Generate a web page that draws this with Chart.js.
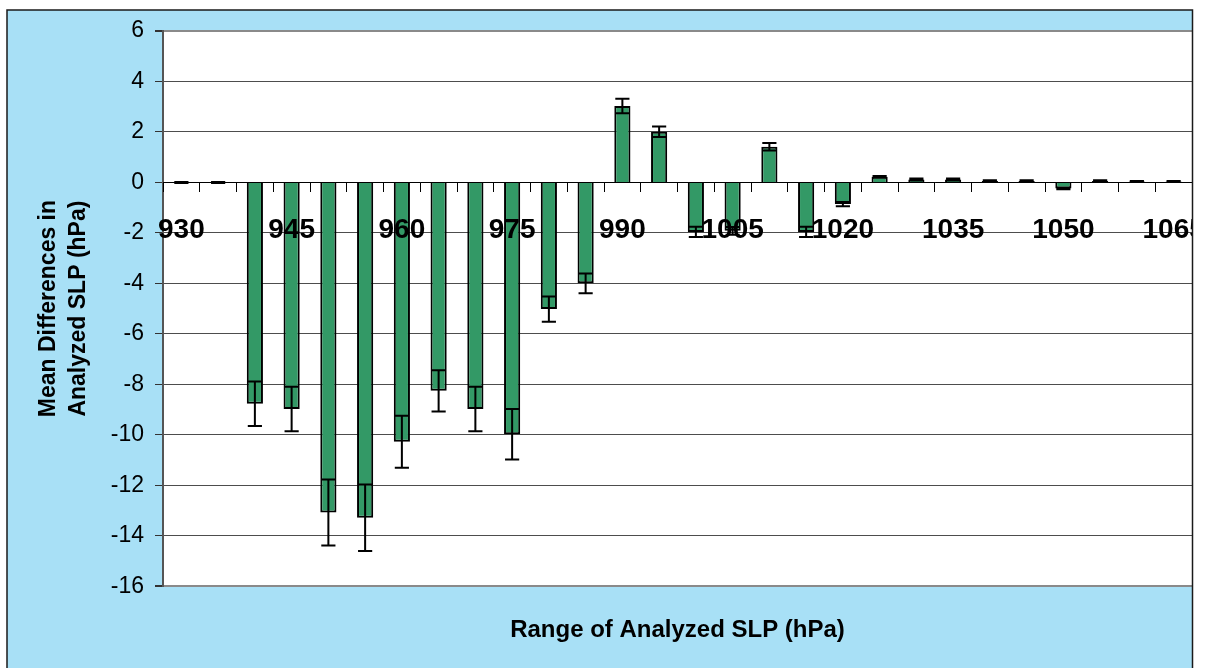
<!DOCTYPE html>
<html>
<head>
<meta charset="utf-8">
<title>Mean Differences in Analyzed SLP</title>
<script src="https://cdn.jsdelivr.net/npm/chart.js@4.4.0/dist/chart.umd.min.js"></script>
<style>
    html, body { margin: 0; padding: 0; background: #fff; }
    #wrap { width: 1214px; height: 668px; position: relative; }
</style>
</head>
<body>
<div id="wrap"><canvas id="slpChart"></canvas></div>
<script>
// ── Data ─────────────────────────────────────────────────────
const slpBins = ['930','935','940','945','950','955','960','965','970','975',
                 '980','985','990','995','1000','1005','1010','1015','1020','1025',
                 '1030','1035','1040','1045','1050','1055','1060','1065'];

const meanDiff = [0, 0, -8.77, -8.98, -13.08, -13.29, -10.28, -8.26, -8.98, -9.98,
                  -5.02, -4.0, 3.03, 2.01, -1.96, -1.92, 1.41, -1.96, -0.86, 0.22,
                  0.12, 0.12, 0.06, 0.06, -0.24, 0.06, 0.04, 0.04];

const errAmount = [0.02, 0.02, 0.88, 0.88, 1.31, 1.32, 1.03, 0.82, 0.88, 1.0,
                   0.5, 0.39, 0.29, 0.21, 0.2, 0.15, 0.15, 0.2, 0.08, 0.03,
                   0.04, 0.04, 0.03, 0.03, 0.03, 0.03, 0.02, 0.02];

const xLabelShown = ['930','945','960','975','990','1005','1020','1035','1050','1065'];
const yTickValues = [-16, -14, -12, -10, -8, -6, -4, -2, 0, 2, 4, 6];

const FONT = "'Liberation Sans', Arial, Helvetica, sans-serif";

// ── Frame: blue panel, white plot area, outer border ─────────
const chartFrame = {
    id: 'chartFrame',
    beforeDraw(chart) {
        const { ctx, chartArea: a } = chart;
        ctx.save();
        ctx.fillStyle = '#fff';
        ctx.fillRect(0, 0, chart.width, chart.height);
        ctx.fillStyle = '#a8e0f6';
        ctx.fillRect(7, 10, 1186, chart.height);
        ctx.fillStyle = '#fff';
        ctx.fillRect(a.left, a.top, a.right - a.left, a.bottom - a.top);
        ctx.restore();
    },
    afterDraw(chart) {
        const { ctx } = chart;
        ctx.save();
        ctx.fillStyle = '#fff';
        ctx.fillRect(1193, 0, chart.width - 1193, chart.height);
        ctx.strokeStyle = '#1a1a1a';
        ctx.lineWidth = 1.5;
        ctx.strokeRect(7, 10, 1185.5, chart.height + 10);
        ctx.restore();
    }
};

// ── Error bars (symmetric, caps as wide as the bar) ──────────
const errorBars = {
    id: 'errorBars',
    afterDatasetsDraw(chart) {
        const { ctx } = chart;
        const y = chart.scales.y;
        const meta = chart.getDatasetMeta(0);
        ctx.save();
        ctx.strokeStyle = '#000';
        ctx.lineWidth = 2;
        meta.data.forEach((bar, i) => {
            const hi = y.getPixelForValue(meanDiff[i] + errAmount[i]);
            const lo = y.getPixelForValue(meanDiff[i] - errAmount[i]);
            const half = bar.width / 2 - 1;
            ctx.beginPath();
            ctx.moveTo(bar.x, hi); ctx.lineTo(bar.x, lo);
            ctx.moveTo(bar.x - half, hi); ctx.lineTo(bar.x + half, hi);
            ctx.moveTo(bar.x - half, lo); ctx.lineTo(bar.x + half, lo);
            ctx.stroke();
        });
        ctx.restore();
    }
};

const isEdge = v => v === yTickValues[0] || v === yTickValues[yTickValues.length - 1];

new Chart(document.getElementById('slpChart'), {
    type: 'bar',
    data: {
        labels: slpBins,
        datasets: [{
            data: meanDiff,
            backgroundColor: '#339966',
            borderColor: '#000',
            borderWidth: 2,
            barPercentage: 0.44,
            categoryPercentage: 1,
        }]
    },
    options: {
        responsive: true,
        maintainAspectRatio: false,
        animation: false,
        devicePixelRatio: 1,
        layout: { padding: { left: 8, top: 31, right: 22, bottom: 0 } },
        plugins: {
            legend: { display: false },
            tooltip: { enabled: false },
            title: {
                display: true,
                text: 'Range of Analyzed SLP (hPa)',
                position: 'bottom',
                fullSize: false,
                color: '#000',
                font: { family: FONT, size: 24, weight: 'bold', lineHeight: 1.2 },
                padding: { top: 30, bottom: 23 }
            }
        },
        scales: {
            x: {
                position: { y: 0 },
                grid: { display: true, drawOnChartArea: false, offset: true, tickLength: 9, tickColor: '#000', tickWidth: 1, z: 1 },
                border: { display: true, color: '#000', width: 1, z: 1 },
                ticks: {
                    z: 1,
                    autoSkip: false,
                    maxRotation: 0,
                    minRotation: 0,
                    padding: 22,
                    color: '#000',
                    font: { family: FONT, size: 28, weight: 'bold', lineHeight: 1.2 },
                    callback: (v, i) => xLabelShown.includes(slpBins[i]) ? slpBins[i] : ''
                },
                afterFit(scale) {
                    scale.height = 0;
                    scale.paddingLeft = 0;
                    scale.paddingRight = 0;
                }
            },
            y: {
                min: -16,
                max: 6,
                afterBuildTicks(scale) {
                    scale.ticks = yTickValues.map(v => ({ value: v }));
                },
                grid: {
                    color: ctx => ctx.tick && isEdge(ctx.tick.value) ? '#8a8a8a' : '#4d4d4d',
                    lineWidth: ctx => ctx.tick && isEdge(ctx.tick.value) ? 2 : 1,
                    tickColor: '#333',
                    tickLength: 8
                },
                border: { display: true, color: '#555', width: 2 },
                ticks: {
                    padding: 11,
                    color: '#000',
                    font: { family: FONT, size: 23 }
                },
                title: {
                    display: true,
                    text: ['Mean Differences in', 'Analyzed SLP (hPa)'],
                    color: '#000',
                    font: { family: FONT, size: 23, weight: 'bold', lineHeight: 1.3 },
                    padding: { top: 25.5, bottom: 0 }
                },
                afterFit(scale) {
                    scale.width = 155;
                }
            }
        }
    },
    plugins: [chartFrame, errorBars]
});
</script>
</body>
</html>
